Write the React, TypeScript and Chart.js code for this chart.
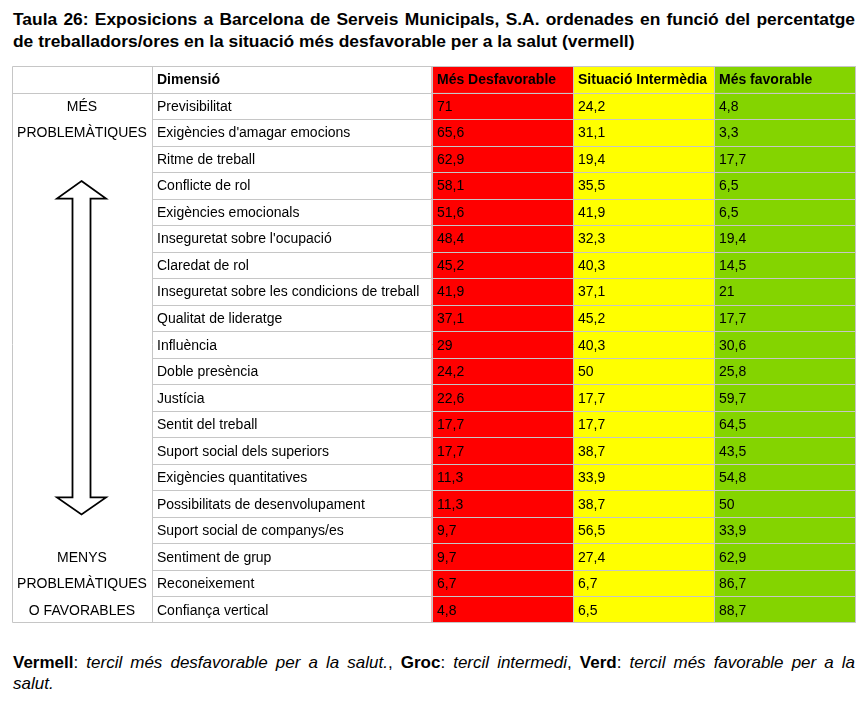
import React, { useEffect, useRef } from "react";
import { Chart, registerables } from "chart.js";

Chart.register(...registerables);

// ---- Data ----
const dimensions = [
  "Previsibilitat",
  "Exigències d'amagar emocions",
  "Ritme de treball",
  "Conflicte de rol",
  "Exigències emocionals",
  "Inseguretat sobre l'ocupació",
  "Claredat de rol",
  "Inseguretat sobre les condicions de treball",
  "Qualitat de lideratge",
  "Influència",
  "Doble presència",
  "Justícia",
  "Sentit del treball",
  "Suport social dels superiors",
  "Exigències quantitatives",
  "Possibilitats de desenvolupament",
  "Suport social de companys/es",
  "Sentiment de grup",
  "Reconeixement",
  "Confiança vertical",
];
const mesDesfavorable = [71, 65.6, 62.9, 58.1, 51.6, 48.4, 45.2, 41.9, 37.1, 29, 24.2, 22.6, 17.7, 17.7, 11.3, 11.3, 9.7, 9.7, 6.7, 4.8];
const situacioIntermedia = [24.2, 31.1, 19.4, 35.5, 41.9, 32.3, 40.3, 37.1, 45.2, 40.3, 50, 17.7, 17.7, 38.7, 33.9, 38.7, 56.5, 27.4, 6.7, 6.5];
const mesFavorable = [4.8, 3.3, 17.7, 6.5, 6.5, 19.4, 14.5, 21, 17.7, 30.6, 25.8, 59.7, 64.5, 43.5, 54.8, 50, 33.9, 62.9, 86.7, 88.7];
const headers = ["", "Dimensió", "Més Desfavorable", "Situació Intermèdia", "Més favorable"];
const topSideLabels = ["MÉS", "PROBLEMÀTIQUES"];
const bottomSideLabels = ["MENYS", "PROBLEMÀTIQUES", "O FAVORABLES"];

const titleLines = [
  "Taula 26: Exposicions a Barcelona de Serveis Municipals, S.A. ordenades en funció del percentatge",
  "de treballadors/ores en la situació més desfavorable per a la salut (vermell)",
];

// ---- Layout / style (not data) ----
const COL_EDGES = [0, 140, 420, 561, 702, 843];
const X_MAX = 844;
const RED = "#ff0000";
const YELLOW = "#ffff00";
const GREEN = "#84d400";
const GRID = "#c6c6c6";
const FONT = "'Liberation Sans', Arial, Helvetica, sans-serif";

const rowLabels = ["header", ...dimensions];
const fmt = (v: number) => String(v).replace(".", ",");

const tablePlugin = {
  id: "tableDecor",
  afterDatasetsDraw(chart: any) {
    const ctx = chart.ctx as CanvasRenderingContext2D;
    const xs = chart.scales.x;
    const ys = chart.scales.y;
    const n = rowLabels.length;
    const band = ys.getPixelForValue(1) - ys.getPixelForValue(0);
    const rowTop = (i: number) => ys.getPixelForValue(i) - band / 2;
    const H = chart.height;
    const snap = (v: number) => Math.min(Math.round(v), H - 1) + 0.5;
    const xe = COL_EDGES.map((e) => Math.min(Math.round(xs.getPixelForValue(e)), chart.width - 1) + 0.5);

    ctx.save();
    // grid lines
    ctx.strokeStyle = GRID;
    ctx.lineWidth = 1;
    ctx.beginPath();
    for (const x of xe) {
      ctx.moveTo(x, snap(rowTop(0)));
      ctx.lineTo(x, snap(rowTop(n)));
    }
    for (let i = 0; i <= n; i++) {
      const y = snap(rowTop(i));
      const full = i <= 1 || i === n;
      ctx.moveTo(full ? xe[0] : xe[1], y);
      ctx.lineTo(xe[5], y);
    }
    ctx.stroke();

    // text
    ctx.fillStyle = "#000";
    ctx.textBaseline = "alphabetic";
    const pad = 5;
    const base = (i: number) => ys.getPixelForValue(i) + 5;
    ctx.font = `bold 14px ${FONT}`;
    ctx.textAlign = "left";
    for (let c = 1; c < headers.length; c++) {
      ctx.fillText(headers[c], xs.getPixelForValue(COL_EDGES[c]) + pad, base(0));
    }
    ctx.font = `14px ${FONT}`;
    for (let r = 0; r < dimensions.length; r++) {
      const i = r + 1;
      ctx.fillText(dimensions[r], xs.getPixelForValue(COL_EDGES[1]) + pad, base(i));
      ctx.fillText(fmt(mesDesfavorable[r]), xs.getPixelForValue(COL_EDGES[2]) + pad, base(i));
      ctx.fillText(fmt(situacioIntermedia[r]), xs.getPixelForValue(COL_EDGES[3]) + pad, base(i));
      ctx.fillText(fmt(mesFavorable[r]), xs.getPixelForValue(COL_EDGES[4]) + pad, base(i));
    }
    // side labels
    ctx.textAlign = "center";
    const cx = xs.getPixelForValue((COL_EDGES[0] + COL_EDGES[1]) / 2);
    topSideLabels.forEach((t, k) => ctx.fillText(t, cx, base(1 + k)));
    bottomSideLabels.forEach((t, k) => ctx.fillText(t, cx, base(n - bottomSideLabels.length + k)));

    // double arrow
    const ax = cx - 0.5;
    const headHalf = 24.5;
    const shaftHalf = 9;
    const upTip = rowTop(4) + 9;
    const upBase = rowTop(5);
    const downTip = rowTop(17) - 2.5;
    const downBase = downTip - 17;
    ctx.strokeStyle = "#000";
    ctx.lineWidth = 1.8;
    ctx.lineJoin = "miter";
    ctx.beginPath();
    ctx.moveTo(ax, upTip);
    ctx.lineTo(ax + headHalf, upBase);
    ctx.lineTo(ax + shaftHalf, upBase);
    ctx.lineTo(ax + shaftHalf, downBase);
    ctx.lineTo(ax + headHalf, downBase);
    ctx.lineTo(ax, downTip);
    ctx.lineTo(ax - headHalf, downBase);
    ctx.lineTo(ax - shaftHalf, downBase);
    ctx.lineTo(ax - shaftHalf, upBase);
    ctx.lineTo(ax - headHalf, upBase);
    ctx.closePath();
    ctx.stroke();
    ctx.restore();
  },
};

function TableChart() {
  const ref = useRef<HTMLCanvasElement | null>(null);
  useEffect(() => {
    if (!ref.current) return;
    const mk = (c0: number, c1: number, color: string, label: string) => ({
      label,
      data: rowLabels.map(() => [COL_EDGES[c0], COL_EDGES[c1]]),
      backgroundColor: color,
      borderWidth: 0,
      grouped: false,
      barPercentage: 1,
      categoryPercentage: 1,
    });
    const chart = new Chart(ref.current, {
      type: "bar",
      data: {
        labels: rowLabels,
        datasets: [
          mk(2, 3, RED, headers[2]),
          mk(3, 4, YELLOW, headers[3]),
          mk(4, 5, GREEN, headers[4]),
        ] as any,
      },
      options: {
        indexAxis: "y",
        responsive: false,
        maintainAspectRatio: false,
        animation: false,
        events: [],
        layout: { padding: 0 },
        scales: {
          x: { type: "linear", min: 0, max: X_MAX, display: false },
          y: { type: "category", display: false, offset: true },
        },
        plugins: { legend: { display: false }, tooltip: { enabled: false } },
      } as any,
      plugins: [tablePlugin],
    });
    return () => chart.destroy();
  }, []);
  return <canvas ref={ref} width={844} height={557} style={{ display: "block" }} />;
}

export default function App() {
  const lineJust: React.CSSProperties = {
    textAlign: "justify",
    textAlignLast: "justify" as any,
    whiteSpace: "normal",
  };
  return (
    <div style={{ position: "absolute", left: 0, top: 0, width: 868, height: 702, background: "#fff", fontFamily: FONT, color: "#000" }}>
      <div style={{ position: "absolute", left: 13, top: 8, width: 842, fontWeight: "bold", fontSize: 17.4, lineHeight: "22px" }}>
        <div style={lineJust}>{titleLines[0]}</div>
        <div>{titleLines[1]}</div>
      </div>
      <div style={{ position: "absolute", left: 12, top: 66 }}>
        <TableChart />
      </div>
      <div style={{ position: "absolute", left: 13, top: 652, width: 842, fontSize: 17, lineHeight: "21px" }}>
        <div style={lineJust}>
          <b>Vermell</b>: <i>tercil més desfavorable per a la salut.</i>, <b>Groc</b>: <i>tercil intermedi</i>, <b>Verd</b>: <i>tercil més favorable per a la</i>
        </div>
        <div>
          <i>salut.</i>
        </div>
      </div>
    </div>
  );
}
